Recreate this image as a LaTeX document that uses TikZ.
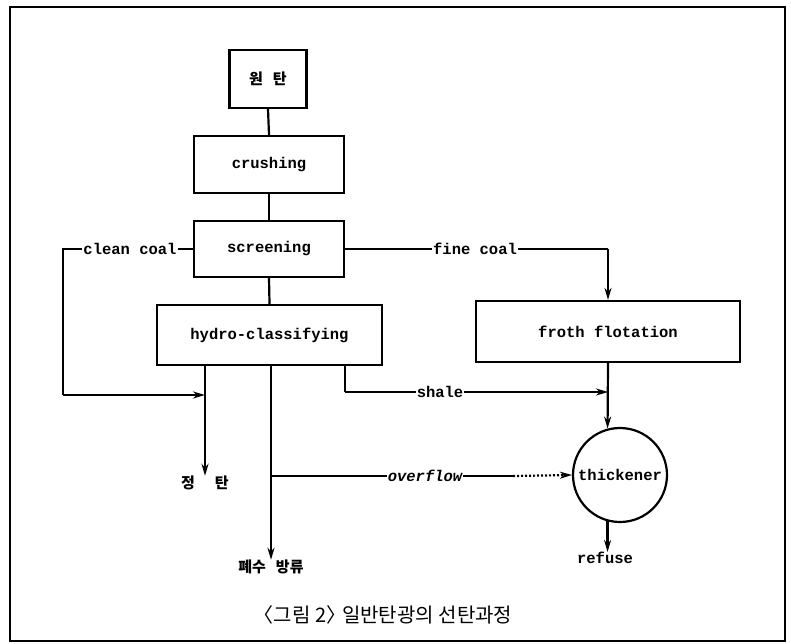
\documentclass[tikz,border=0pt]{standalone}
\usepackage{fontspec}
\setmonofont{Liberation Mono}
\newfontfamily\krfont{Noto Sans CJK KR}
\usetikzlibrary{arrows.meta}
\tikzset{
  proc/.style={draw, line width=2.2pt, rectangle, inner sep=0pt, font=\fontsize{15.5}{18}\selectfont\ttfamily\bfseries},
  flow/.style={line width=2.2pt},
  arr/.style={flow, -{Stealth[length=12pt,width=7pt]}},
  lbl/.style={fill=white, inner sep=1pt, font=\fontsize{15.5}{18}\selectfont\ttfamily\bfseries},
  krl/.style={inner sep=0pt, font=\fontsize{15}{17}\selectfont\krfont\bfseries},
  frame/.style={draw, line width=1.5pt}
}
\begin{document}
\begin{tikzpicture}[x=1pt,y=-1pt]
\useasboundingbox (0,0) rectangle (791,644);
\draw[frame] (10,7) rectangle (785,641);
% process boxes
\node[proc, minimum width=77pt, minimum height=58pt, font=\fontsize{15}{17}\selectfont\krfont\bfseries] (raw) at (268,79) {원\hspace{10pt}탄};
\node[proc, minimum width=150pt, minimum height=57pt] (crush) at (269,164.5) {crushing};
\node[proc, minimum width=150pt, minimum height=56pt] (screen) at (269,249) {screening};
\node[proc, minimum width=225pt, minimum height=60pt] (hydro) at (269.5,335) {hydro-classifying};
\node[proc, minimum width=264pt, minimum height=61pt] (froth) at (608,331.5) {froth flotation};
\node[proc, circle, minimum size=94pt] (thick) at (620,475) {thickener};
% end labels
\node[krl] (jt) at (205,483) {정\hspace{20pt}탄};
\node[krl] (pw) at (271,567) {폐수\hspace{10pt}방류};
\node[lbl, fill=none, inner sep=0pt] (refuse) at (605,558) {refuse};
% coordinates
\coordinate (cc1) at (63,249);
\coordinate (cc2) at (63,395);
\coordinate (j1) at (205,395);
\coordinate (fc) at (608,249);
\coordinate (sh1) at (345,365);
\coordinate (sh2) at (345,392);
\coordinate (j2) at (608,392);
\coordinate (ov) at (271,476);
\coordinate (ovd) at (513,476);
% main chain
\draw[flow] (raw.south) -- (crush.north);
\draw[flow] (crush.south) -- (screen.north);
\draw[flow] (screen.south) -- (hydro.north);
% clean coal
\draw[flow] (screen.west) -- (cc1) -- (cc2);
\draw[arr] (cc2) -- (j1);
\node[lbl] at (130,249) {clean coal};
% hydro outputs
\draw[arr] (hydro.south -| jt) -- (jt.north);
\draw[arr] (hydro.south -| pw) -- (pw.north);
% fine coal
\draw[flow] (screen.east) -- (fc);
\draw[arr] (fc) -- (froth.north);
\node[lbl] at (475,249) {fine coal};
% shale
\draw[flow] (sh1) -- (sh2);
\draw[arr] (sh2) -- (j2);
\node[lbl] at (440,392) {shale};
% froth to thickener
\draw[arr] (froth.south) -- (thick.105);
% overflow
\draw[flow] (ov) -- (ovd);
\draw[arr, dash pattern=on 2pt off 2pt] (ovd) -- (thick.west);
\node[lbl, font=\fontsize{15.5}{18}\selectfont\ttfamily\bfseries\itshape] at (425,476) {overflow};
% refuse
\draw[arr] (thick.-105) -- (refuse.north -| thick.-105);
% caption
\node[inner sep=0pt, font=\fontsize{20}{24}\selectfont\krfont] (cap) at (383,615) {〈그림 2〉\hspace{-4pt}일반탄광의 선탄과정};
\end{tikzpicture}
\end{document}
